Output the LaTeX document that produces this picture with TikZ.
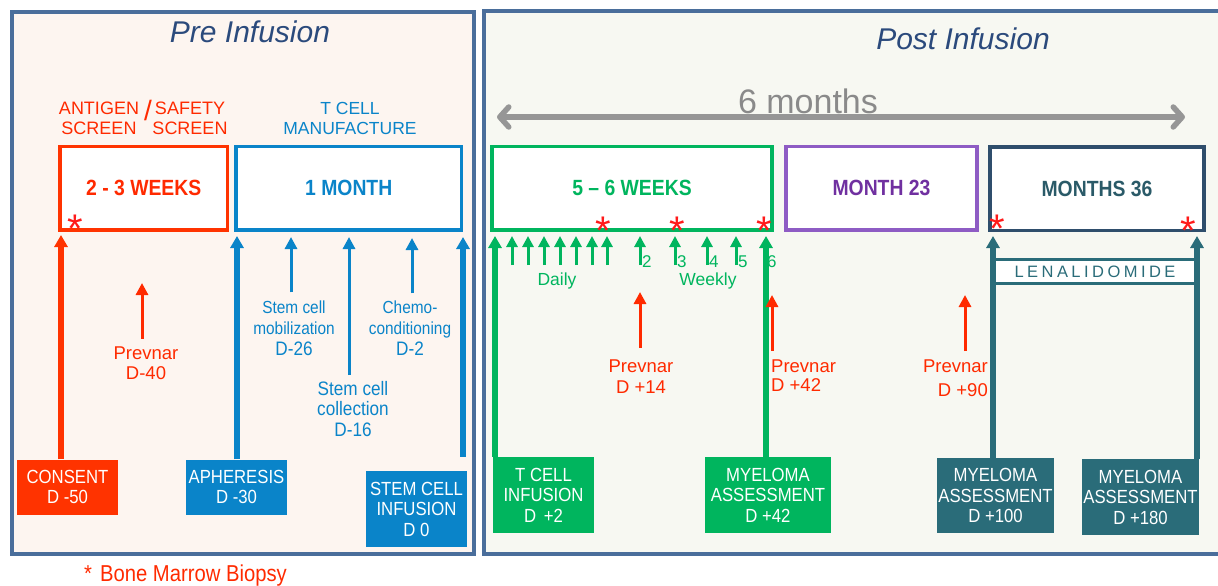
\documentclass[tikz,border=0pt]{standalone}
\usepackage{fontspec}
\setmainfont{Liberation Sans}
\newfontfamily\narrowsf[FakeStretch=0.88]{Liberation Sans}
\newfontfamily\lenafont[LetterSpace=21]{Liberation Sans}
\usetikzlibrary{arrows.meta}

\definecolor{prered}{HTML}{FF2A00}
\definecolor{consentred}{HTML}{FF3300}
\definecolor{astred}{HTML}{FF1A1A}
\definecolor{mfgblue}{HTML}{0A84C9}
\definecolor{infgreen}{HTML}{00B55E}
\definecolor{m23border}{HTML}{8E5CC4}
\definecolor{m23text}{HTML}{7030A0}
\definecolor{lenateal}{HTML}{2A6C79}
\definecolor{m36border}{HTML}{2F4E6C}
\definecolor{m36text}{HTML}{2A5A68}
\definecolor{panelblue}{HTML}{4A6E9B}
\definecolor{titleblue}{HTML}{2B4A7C}
\definecolor{prefill}{HTML}{FDF5F0}
\definecolor{postfill}{HTML}{F7F8F2}
\definecolor{spangray}{HTML}{969696}
\definecolor{sixgray}{HTML}{8A8A8A}

\begin{document}
\begin{tikzpicture}[x=1pt,y=-1pt,
  title/.style={anchor=base,text=titleblue,font=\itshape\fontsize{30}{30}\selectfont},
  period/.style={draw,line width=3.5pt,fill=white,minimum height=83.5pt,inner sep=0pt,
    font=\narrowsf\bfseries\fontsize{22}{24}\selectfont},
  event/.style={inner sep=0pt,text=white,align=center,
    font=\narrowsf\fontsize{19}{20.5}\selectfont},
  lbl/.style={align=center,inner sep=0pt},
  bigarrow/.style={line width=6pt,-{Triangle[length=12pt,width=13pt]}},
  thinarrow/.style={line width=3pt,-{Triangle[length=12pt,width=12pt]}},
  tick/.style={line width=3pt,infgreen,-{Triangle[length=11pt,width=11pt]}},
  biopsy/.style={text=astred,anchor=base,inner sep=0pt,font=\fontsize{40}{40}\selectfont}
]
\useasboundingbox (0,0) rectangle (1218,586);
\clip (0,0) rectangle (1218,586);

% panels
\path[draw=panelblue,line width=4.5pt,fill=prefill] (12,12) rectangle (474,554);
\path[draw=panelblue,line width=4.5pt,fill=postfill] (484,11) rectangle (1240,554);
\node[title] (pre) at (250,43) {Pre Infusion};
\node[title] (post) at (963,50) {Post Infusion};

% six month span
\coordinate (spanL) at (497,117);
\coordinate (spanR) at (1185,117);
\path[draw,spangray,line width=5.5pt,{Straight Barb[length=9pt,width=20pt,round]}-{Straight Barb[length=9pt,width=20pt,round]}] (spanL) -- (spanR);
\node[anchor=base,text=sixgray,font=\fontsize{34}{34}\selectfont] (six) at (808,113) {6 months};

% headings above the periods
\node[lbl,text=prered,font=\fontsize{18}{20}\selectfont] (antigen) at (99,118.5) {ANTIGEN\\SCREEN};
\node[lbl,text=prered,font=\fontsize{28}{28}\selectfont] (slash) at (148,110) {/};
\node[lbl,text=prered,font=\fontsize{18}{20}\selectfont] (safety) at (190,118.5) {SAFETY\\SCREEN};
\node[lbl,text=mfgblue,font=\fontsize{17.5}{20}\selectfont] (tcell) at (350,118.5) {T CELL\\MANUFACTURE};

% periods
\node[period,draw=consentred,text=prered,minimum width=167.5pt] (wk) at (143.75,188.25) {2 - 3 WEEKS};
\node[period,draw=mfgblue,text=mfgblue,minimum width=225.5pt] (mon) at (348.75,188.25) {1 MONTH};
\node[period,draw=infgreen,text=infgreen,minimum width=280pt] (wk56) at (632,188.25) {5 – 6 WEEKS};
\node[period,draw=m23border,text=m23text,minimum width=191pt] (m23) at (881.5,188.25) {MONTH 23};
\node[period,draw=m36border,text=m36text,minimum width=214pt] (m36) at (1097,188.5) {MONTHS 36};

% bone marrow biopsies
\foreach \x/\y [count=\i] in {75/219,603/221,677/221,764/221,997/219,1188/221}
  \node[biopsy] (bmb\i) at (\x,\y+23) {*};

% events
\node[event,fill=consentred,minimum width=101pt,minimum height=55pt] (consent) at (67.5,487) {CONSENT\\D -50};
\node[event,fill=mfgblue,minimum width=101pt,minimum height=55pt] (aph) at (236.5,487) {APHERESIS\\D -30};
\node[event,fill=mfgblue,minimum width=101pt,minimum height=76pt] (sci) at (416.5,509) {STEM CELL\\INFUSION\\D 0};
\node[event,fill=infgreen,minimum width=101pt,minimum height=76pt] (tci) at (543.5,495) {T CELL\\INFUSION\\D \,+2};
\node[event,fill=infgreen,minimum width=126pt,minimum height=76pt] (ma42) at (768,495) {MYELOMA\\ASSESSMENT\\D +42};
\node[event,fill=lenateal,minimum width=117pt,minimum height=75pt] (ma100) at (995.5,495.5) {MYELOMA\\ASSESSMENT\\D +100};
\node[event,fill=lenateal,minimum width=117pt,minimum height=76pt] (ma180) at (1140.5,497) {MYELOMA\\ASSESSMENT\\D +180};

% notes
\node[lbl,text=prered,font=\fontsize{18.5}{20}\selectfont] (pv40) at (146,363.5) {Prevnar\\D-40};
\node[lbl,text=mfgblue,font=\narrowsf\fontsize{17.5}{21}\selectfont] (mob) at (294,328) {Stem cell\\mobilization\\{\fontsize{19.5}{21}\selectfont D-26}};
\node[lbl,text=mfgblue,font=\narrowsf\fontsize{17.5}{21}\selectfont] (chemo) at (410,328) {Chemo-\\conditioning\\{\fontsize{19.5}{21}\selectfont D-2}};
\node[lbl,text=mfgblue,font=\narrowsf\fontsize{19.5}{20.5}\selectfont] (coll) at (353,409) {Stem cell\\collection\\D-16};
\node[lbl,text=prered,font=\fontsize{18.5}{21}\selectfont] (pv14) at (641,377) {Prevnar\\D +14};
\node[lbl,align=left,anchor=north west,text=prered,font=\fontsize{18.5}{19}\selectfont] (pv42) at (771,360) {Prevnar\\D +42};
\node[lbl,align=right,anchor=north east,text=prered,font=\fontsize{18.5}{24}\selectfont] (pv90) at (988,360) {Prevnar\\D +90};
\node[anchor=base,text=infgreen,font=\fontsize{17.5}{20}\selectfont] (daily) at (557,285) {Daily};
\node[anchor=base,text=infgreen,font=\fontsize{17.5}{20}\selectfont] (weekly) at (708,285) {Weekly};
\node[anchor=base west,inner sep=0pt,text=prered,font=\narrowsf\fontsize{23}{23}\selectfont] (key) at (84,581) {*\hspace{8pt}Bone Marrow Biopsy};

% lenalidomide
\node[fill=white,inner sep=0pt,minimum width=204pt,minimum height=23pt,text=lenateal,
  font=\lenafont\fontsize{16.5}{18}\selectfont] (lena) at (1095,271.5) {LENALIDOMIDE};
\path[draw,lenateal,line width=3pt] (lena.north west) -- (lena.north east);
\path[draw,lenateal,line width=3pt] (lena.south west) -- (lena.south east);

% arrow tips on the time line
\coordinate (dm50) at (61,235);
\coordinate (dm40) at (142,283);
\coordinate (dm30) at (237,236);
\coordinate (dm26) at (291,237);
\coordinate (dm16) at (349,237);
\coordinate (dm2) at (412,238);
\coordinate (d0) at (463,237);
\coordinate (dp2) at (495,236);
\coordinate (dp14) at (640,292);
\coordinate (dp42) at (766,236);
\coordinate (dp42v) at (772,295);
\coordinate (dp90) at (965,295);
\coordinate (dp100) at (993,236);
\coordinate (dp180) at (1197,236);

\path[draw,bigarrow,consentred] (consent.north -| dm50) -- (dm50);
\path[draw,thinarrow,prered,shorten <=8pt] (pv40.north -| dm40) -- (dm40);
\path[draw,bigarrow,mfgblue] (aph.north -| dm30) -- (dm30);
\path[draw,thinarrow,mfgblue,shorten <=8pt] (mob.north -| dm26) -- (dm26);
\path[draw,thinarrow,mfgblue,shorten <=6pt] (coll.north -| dm16) -- (dm16);
\path[draw,thinarrow,mfgblue,shorten <=7pt] (chemo.north -| dm2) -- (dm2);
\path[draw,bigarrow,mfgblue,shorten <=14pt] (sci.north -| d0) -- (d0);

\path[draw,bigarrow,infgreen] (tci.north -| dp2) -- (dp2);
\foreach \x [count=\i] in {512,528,544,560,576,592,607} {
  \coordinate (day\i) at (\x,236);
  \path[draw,tick] (\x,265) -- (day\i);
}
\foreach \x/\n in {640/2,675/3,707/4,736/5} {
  \coordinate (week\n) at (\x,236);
  \path[draw,tick] (\x,265) -- (week\n);
  \node[anchor=base west,inner sep=0pt,text=infgreen,font=\fontsize{17}{17}\selectfont] (wn\n) at (\x+2,267) {\n};
}
\node[anchor=base west,inner sep=0pt,text=infgreen,font=\fontsize{17}{17}\selectfont] (wn6) at (767,267) {6};
\path[draw,bigarrow,infgreen] (ma42.north -| dp42) -- (dp42);
\path[draw,thinarrow,prered,shorten <=12pt] (pv14.north -| dp14) -- (dp14);
\path[draw,thinarrow,prered,shorten <=9pt] (pv42.north -| dp42v) -- (dp42v);
\path[draw,thinarrow,prered,shorten <=9pt] (pv90.north -| dp90) -- (dp90);
\path[draw,bigarrow,lenateal] (ma100.north -| dp100) -- (dp100);
\path[draw,bigarrow,lenateal] (ma180.north -| dp180) -- (dp180);
\end{tikzpicture}
\end{document}
